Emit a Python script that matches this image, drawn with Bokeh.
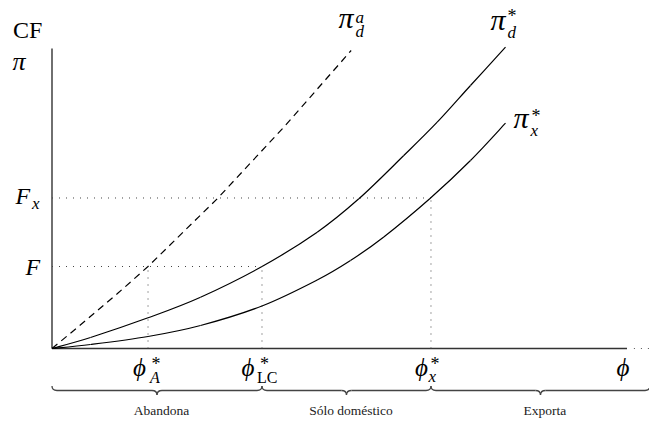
from bokeh.plotting import figure
from bokeh.models import Range1d
from bokeh.core.properties import value
from bokeh.embed import file_html
from bokeh.resources import INLINE

# ---------------- data ----------------
phi_da = [0, 0.379, 1.134, 1.670, 2.873, 4.026, 5.203]
pi_da = [0, 0.600, 1.823, 2.733, 4.990, 7.367, 9.933]

phi_d = [0, 0.670, 1.670, 2.583, 3.652, 4.612, 5.336, 6.118, 6.699, 7.278, 7.887]
pi_d = [0, 0.367, 1.023, 1.710, 2.733, 3.877, 4.990, 6.433, 7.543, 8.767, 10.043]

phi_x = [0, 0.670, 1.670, 2.583, 3.652, 4.612, 5.191, 5.770, 6.574, 7.278, 7.887]
pi_x = [0, 0.133, 0.400, 0.767, 1.417, 2.283, 2.933, 3.717, 5.000, 6.267, 7.510]

phi_A, phi_LC, phi_X = 1.670, 3.652, 6.591
F, F_X = 2.733, 5.017
x_max, y_max, x_dots_end = 10.0, 10.0, 10.4
region_names = ["Abandona", "Sólo doméstico", "Exporta"]
region_edges = [0.0, phi_LC, phi_X, x_dots_end]

# ---------------- layout helpers ----------------
W, H = 649, 421
SX, SY = 57.5, 30.0          # pixels per unit
OX, OY = 51.5, 348.0         # page position of the origin
BASE_FIX = 0.38              # baseline correction, in em


def ux(px):
    return (px - OX) / SX


def uy(py):
    return (OY - py) / SY


p = figure(width=W, height=H, output_backend="svg", toolbar_location=None,
           x_range=Range1d(ux(0), ux(W)), y_range=Range1d(uy(H), uy(0)),
           min_border=0)
p.axis.visible = False
p.grid.visible = False
p.outline_line_color = None
p.background_fill_color = "white"
p.border_fill_color = "white"

SERIF = "Liberation Serif"
DOT = "1 6"

# axes
p.line([0, x_max], [0, 0], line_color="#333333", line_width=1.4)
p.line([0, 0], [0, y_max], line_color="#333333", line_width=1.4)
p.line([x_max + 0.12, x_dots_end], [0, 0], line_color="#555555", line_width=1.2, line_dash=DOT)

# dotted guides
p.line([0, phi_X], [F_X, F_X], line_color="#444444", line_width=1, line_dash=DOT)
p.line([0, phi_LC], [F, F], line_color="#444444", line_width=1, line_dash=DOT)
p.line([phi_A, phi_A], [0, F], line_color="#444444", line_width=1, line_dash=DOT)
p.line([phi_LC, phi_LC], [0, F], line_color="#444444", line_width=1, line_dash=DOT)
p.line([phi_X, phi_X], [0, F_X], line_color="#444444", line_width=1, line_dash=DOT)


def smooth(xs, ys, **kw):
    """Draw a smooth curve through the read points (Catmull-Rom as cubic Béziers)."""
    n = len(xs)
    x0, y0, x1, y1, cx0, cy0, cx1, cy1 = ([] for _ in range(8))
    for i in range(n - 1):
        im, ip = max(i - 1, 0), min(i + 2, n - 1)
        x0.append(xs[i]); y0.append(ys[i])
        x1.append(xs[i + 1]); y1.append(ys[i + 1])
        cx0.append(xs[i] + (xs[i + 1] - xs[im]) / 6)
        cy0.append(ys[i] + (ys[i + 1] - ys[im]) / 6)
        cx1.append(xs[i + 1] - (xs[ip] - xs[i]) / 6)
        cy1.append(ys[i + 1] - (ys[ip] - ys[i]) / 6)
    p.bezier(x0=x0, y0=y0, x1=x1, y1=y1, cx0=cx0, cy0=cy0, cx1=cx1, cy1=cy1, **kw)


# curves
p.line(phi_da, pi_da, line_color="black", line_width=1.2, line_dash="7 5")
smooth(phi_d, pi_d, line_color="black", line_width=1.2)
smooth(phi_x, pi_x, line_color="black", line_width=1.2)

# braces
yb = uy(390)
h = 4.5 / SY
r = 5 / SX
for a, b in zip(region_edges[:-1], region_edges[1:]):
    m = (a + b) / 2
    kw = dict(line_color="#444444", line_width=1.3)
    p.quadratic(x0=[a], y0=[yb + h], x1=[a + r], y1=[yb], cx=[a], cy=[yb], **kw)
    p.line([a + r, m - r], [yb, yb], **kw)
    p.quadratic(x0=[m - r], y0=[yb], x1=[m], y1=[yb - h], cx=[m], cy=[yb], **kw)
    p.quadratic(x0=[m], y0=[yb - h], x1=[m + r], y1=[yb], cx=[m], cy=[yb], **kw)
    p.line([m + r, b - r], [yb, yb], **kw)
    p.quadratic(x0=[b - r], y0=[yb], x1=[b], y1=[yb + h], cx=[b], cy=[yb], **kw)

LAB = 13.5
p.text(x=[(a + b) / 2 for a, b in zip(region_edges[:-1], region_edges[1:])],
       y=[uy(415 - BASE_FIX * LAB)] * 3, text=region_names, x_offset=4.5,
       text_font=value(SERIF), text_font_size=f"{LAB}px", text_color="#222222",
       text_align="center", text_baseline="alphabetic")


def txt(px, py, s, size, italic=True, font=SERIF, align="left"):
    p.text(x=[ux(px)], y=[uy(py - BASE_FIX * size)], text=[s], text_font=value(font),
           text_font_size=f"{size}px", text_font_style="italic" if italic else "normal",
           text_align=align, text_baseline="alphabetic", text_color="black")


# y labels
txt(12.5, 39, "CF", 24, italic=False)
txt(12, 71, "π", 26)
# F labels
txt(15, 205, "F", 24)
txt(31.5, 209.5, "x", 17)
txt(25, 276, "F", 24)

# phi labels
PHI = "ϕ"
txt(132.5, 376, PHI, 25)
txt(151, 370, "*", 18, italic=False)
txt(149.5, 383, "A", 16)
txt(241, 376, PHI, 25)
txt(259.5, 370, "*", 18, italic=False)
txt(256.5, 383, "LC", 16, italic=False)
txt(414.5, 376, PHI, 25)
txt(430, 370, "*", 18, italic=False)
txt(428, 382, "x", 17)
txt(616, 376, PHI, 25)

# curve labels
txt(338, 28.5, "π", 30)
txt(355, 23.3, "a", 17)
txt(355, 37, "d", 17)
txt(490, 30, "π", 30)
txt(507, 22.5, "*", 18, italic=False)
txt(507, 38, "d", 17)
txt(513, 128.5, "π", 30)
txt(531, 122.5, "*", 18, italic=False)
txt(530, 136, "x", 17)

open("out.html", "w").write(file_html(p, INLINE))
